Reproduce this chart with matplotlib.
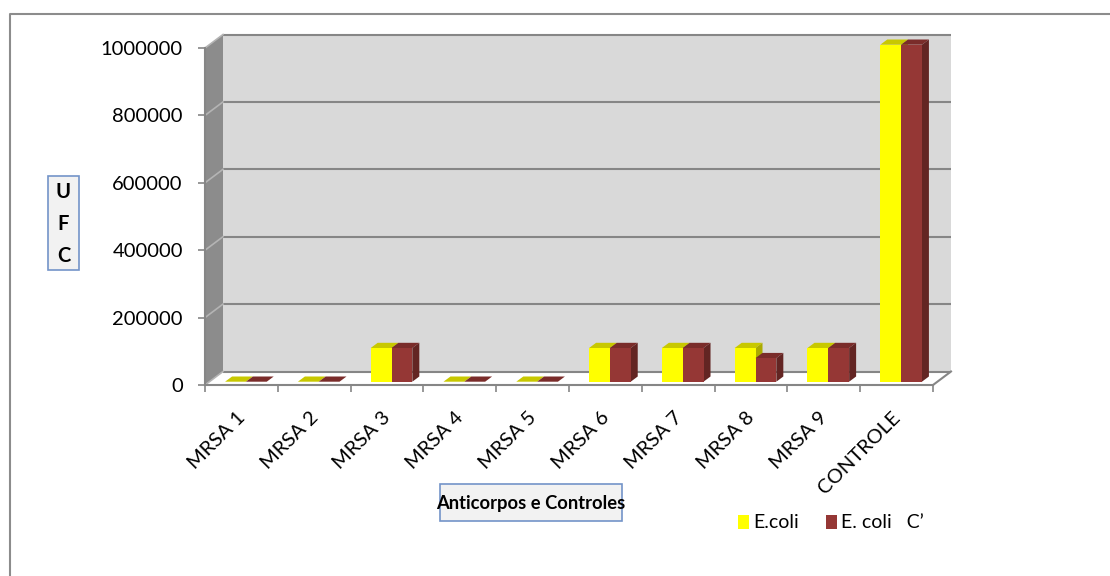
import numpy as np
import matplotlib
matplotlib.use("Agg")
import matplotlib.pyplot as plt
from matplotlib.patches import Polygon, Rectangle
from matplotlib.transforms import ScaledTranslation

plt.rcParams['font.family'] = ['Lato', 'DejaVu Sans']

# ---- data -------------------------------------------------------------
categories = ["MRSA 1", "MRSA 2", "MRSA 3", "MRSA 4", "MRSA 5",
              "MRSA 6", "MRSA 7", "MRSA 8", "MRSA 9", "CONTROLE"]
ecoli = [0, 0, 100000, 0, 0, 100000, 100000, 100000, 100000, 1000000]
ecoli_c = [0, 0, 100000, 0, 0, 100000, 100000, 70000, 100000, 1000000]
series_names = ["E.coli", "E. coli   C\u2019"]
y_ticks = [0, 200000, 400000, 600000, 800000, 1000000]
y_tick_labels = ["0", "200000", "400000", "600000", "800000", "1000000"]

# ---- figure / layout --------------------------------------------------
W, H = 1110, 576
fig = plt.figure(figsize=(W / 100, H / 100), dpi=100)


def fx(x):
    return x / W


def fy(y):
    return 1 - y / H


ax = fig.add_axes([fx(205), fy(385), (933 - 205) / W, (385 - 48) / H])
n = len(categories)
ax.set_xlim(0, n)
ax.set_ylim(0, y_ticks[-1])
ax.patch.set_visible(False)


def dvec(px, py):
    """Convert a screen-pixel depth offset into data units."""
    inv = ax.transData.inverted()
    o = ax.transData.transform((0, 0))
    p = inv.transform(o + np.array([px, py]) * fig.dpi / 100.0)
    return p - inv.transform(o)


D = dvec(18, 13.5)      # wall depth
B0 = dvec(4.5, 3.3)     # bar front offset inside the floor
BD = dvec(7, 5.2)       # bar depth

ymax = y_ticks[-1]
grid_col = "#868686"


def poly(pts, color, z, **kw):
    p = Polygon(np.array(pts), closed=True, facecolor=color, edgecolor="none",
                zorder=z, clip_on=False, **kw)
    ax.add_patch(p)
    return p


# side wall
poly([(0, 0), (0, ymax), (0 + D[0], ymax + D[1]), (0 + D[0], 0 + D[1])],
     "#8C8C8C", 1)
# back wall
poly([(D[0], D[1]), (n + D[0], D[1]), (n + D[0], ymax + D[1]), (D[0], ymax + D[1])],
     "#D9D9D9", 1)
# floor
poly([(0, 0), (n, 0), (n + D[0], D[1]), (D[0], D[1])], "#FFFFFF", 1)

# gridlines on the back wall and side wall
for v in y_ticks:
    ax.plot([D[0], n + D[0]], [v + D[1], v + D[1]], color=grid_col, lw=1.5,
            zorder=2, clip_on=False, solid_capstyle="butt")
    ax.plot([0, D[0]], [v, v + D[1]], color="#B4B4B4", lw=1.2,
            zorder=2, clip_on=False)
# floor right edge
ax.plot([n, n + D[0]], [0, D[1]], color=grid_col, lw=1.5, zorder=2, clip_on=False)


# ---- 3D-looking columns ----------------------------------------------
def bar3d(x0, x1, v, front, top, side, z):
    ox, oy = B0
    dx, dy = BD
    poly([(x0 + ox, v + oy), (x1 + ox, v + oy), (x1 + ox + dx, v + oy + dy),
          (x0 + ox + dx, v + oy + dy)], top, z)
    poly([(x1 + ox, oy), (x1 + ox + dx, oy + dy), (x1 + ox + dx, v + oy + dy),
          (x1 + ox, v + oy)], side, z)
    poly([(x0 + ox, oy), (x1 + ox, oy), (x1 + ox, v + oy), (x0 + ox, v + oy)],
         front, z)


bw = 0.286
for i in range(n):
    c = i + 0.5
    bar3d(c - bw, c, ecoli[i], "#FFFF00", "#C8C800", "#ABAB00", 3 + i * 0.01)
    bar3d(c, c + bw, ecoli_c[i], "#953735", "#7A2C2A", "#632523", 3 + i * 0.01 + 0.005)

# ---- axes -------------------------------------------------------------
for s in ["top", "right"]:
    ax.spines[s].set_visible(False)
for s in ["left", "bottom"]:
    ax.spines[s].set_color(grid_col)
    ax.spines[s].set_linewidth(1.5)
    ax.spines[s].set_zorder(5)

ax.set_yticks(y_ticks)
ax.set_yticklabels(y_tick_labels, fontsize=14.5)
ax.set_xticks(np.arange(n + 1))
ax.set_xticklabels([])
ax.tick_params(axis="both", direction="out", length=5, width=1.2, color=grid_col)
ax.tick_params(axis="y", pad=11)

lab_tr = ax.transData + ScaledTranslation(1 / 100, -30 / 100, fig.dpi_scale_trans)
for i, lab in enumerate(categories):
    ax.text(i + 0.5, 0, lab, transform=lab_tr, rotation=45, rotation_mode="anchor",
            ha="right", va="center", fontsize=14.5)

# ---- titles, legend, frame -------------------------------------------
box_edge = "#7394C8"
fig.patches.append(Rectangle((fx(48), fy(270)), (79 - 48) / W, (270 - 176) / H,
                             transform=fig.transFigure, facecolor="#F2F2F2",
                             edgecolor=box_edge, lw=1.2))
fig.text(fx(63.5), fy(224), "U\nF\nC", ha="center", va="center", fontsize=14.5,
         fontweight="bold", linespacing=1.75, multialignment="center")

fig.patches.append(Rectangle((fx(440), fy(521)), (622 - 440) / W, (521 - 484) / H,
                             transform=fig.transFigure, facecolor="#F2F2F2",
                             edgecolor=box_edge, lw=1.2))
fig.text(fx(531), fy(503), "Anticorpos e Controles", ha="center", va="center",
         fontsize=13.2, fontweight="bold")

leg_cols = ["#FFFF00", "#953735"]
leg_x = [738, 826]
for name, col, lx in zip(series_names, leg_cols, leg_x):
    fig.patches.append(Rectangle((fx(lx), fy(529)), 11 / W, 14 / H,
                                 transform=fig.transFigure, facecolor=col,
                                 edgecolor="none"))
    fig.text(fx(lx + 15), fy(522), name, ha="left", va="center", fontsize=14)

# outer chart frame
fig.lines.append(plt.Line2D([fx(10), fx(10), 1.0], [0.0, fy(14), fy(14)],
                            transform=fig.transFigure, color="#8C8C8C", lw=1.5))

fig.savefig("out.png", dpi=100)
